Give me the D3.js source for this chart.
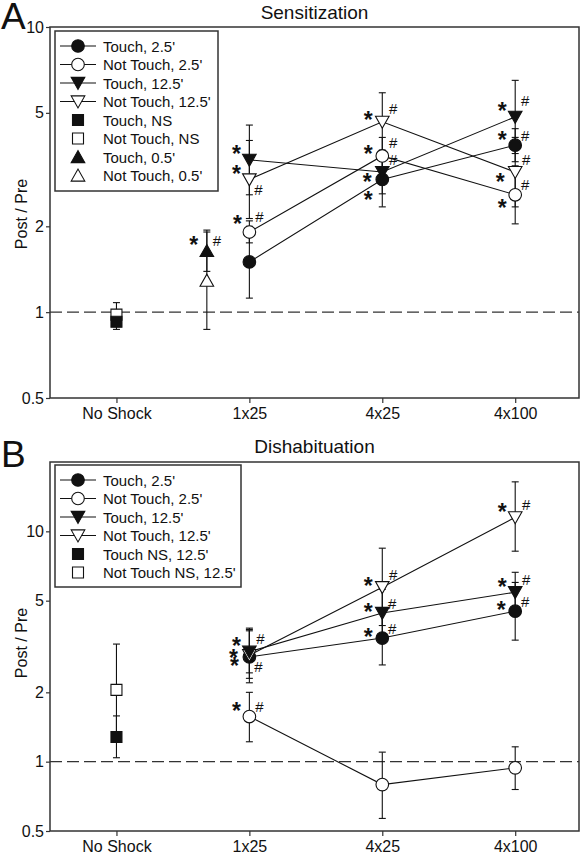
<!DOCTYPE html>
<html><head><meta charset="utf-8">
<script src="https://cdn.jsdelivr.net/npm/d3@7"></script>
<style>body{margin:0;background:#fff} text{font-family:"Liberation Sans",Arial,sans-serif;fill:#111}</style>
</head><body><svg id="c" width="582" height="852"></svg>
<script>
// ---------- data ----------
const categories = ["No Shock", "1x25", "4x25", "4x100"];
const yTickValues = [0.5, 1, 2, 5, 10];
const shockX = [1, 2, 3];        // category indices of the shock groups
const noShockX = [0];
const shortX = [0.68];           // 0.5' group sits between No Shock and 1x25

// Panel A — Sensitization
const aTouch25 = [1.5, 2.92, 3.85],    aTouch25Lo = [1.12, 2.34, 3.37],   aTouch25Hi = [2.0, 3.64, 4.4];
const aNot25   = [1.91, 3.53, 2.58],   aNot25Lo   = [1.75, 3.04, 2.04],   aNot25Hi   = [2.09, 4.1, 3.26];
const aTouch125= [3.42, 3.1, 4.84],    aTouch125Lo= [2.58, 2.6, 3.6],     aTouch125Hi= [4.53, 3.7, 6.5];
const aNot125  = [2.92, 4.65, 3.1],    aNot125Lo  = [2.13, 3.68, 2.34],   aNot125Hi  = [4.0, 5.88, 4.1];
const aTouchNS = [0.925], aTouchNSLo = [0.87], aTouchNSHi = [0.98];
const aNotNS   = [0.98],  aNotNSLo   = [0.89], aNotNSHi   = [1.08];
const aTouch05 = [1.64],  aTouch05Lo = [1.39], aTouch05Hi = [1.94];
const aNot05   = [1.29],  aNot05Lo   = [0.87], aNot05Hi   = [1.91];

// Panel B — Dishabituation
const bTouch25 = [2.85, 3.44, 4.5],    bTouch25Lo = [2.2, 2.63, 3.37],    bTouch25Hi = [3.7, 4.5, 6.0];
const bNot25   = [1.57, 0.795, 0.94],  bNot25Lo   = [1.22, 0.567, 0.757], bNot25Hi   = [2.0, 1.1, 1.16];
const bTouch125= [3.0, 4.42, 5.44],    bTouch125Lo= [2.43, 3.5, 4.4],     bTouch125Hi= [3.8, 5.6, 6.64];
const bNot125  = [2.9, 5.72, 11.5],    bNot125Lo  = [2.3, 3.9, 8.2],      bNot125Hi  = [3.75, 8.45, 16.4];
const bTouchNS = [1.28], bTouchNSLo = [1.04], bTouchNSHi = [1.58];
const bNotNS   = [2.05], bNotNSLo   = [1.30], bNotNSHi   = [3.24];

// legend labels
const legendA = ["Touch, 2.5'", "Not Touch, 2.5'", "Touch, 12.5'", "Not Touch, 12.5'", "Touch, NS", "Not Touch, NS", "Touch, 0.5'", "Not Touch, 0.5'"];
const legendB = ["Touch, 2.5'", "Not Touch, 2.5'", "Touch, 12.5'", "Not Touch, 12.5'", "Touch NS, 12.5'", "Not Touch NS, 12.5'"];

// significance marks: [series key, point index, mark, placement]
const marksA = [
  ["t05",0,"*","up"],["t05",0,"#","mid"],
  ["t125",0,"*","up"],
  ["n125",0,"*","up"],["n125",0,"#","down"],
  ["n25",0,"*","high"],["n25",0,"#","high"],
  ["n125",1,"*","mid"],["n125",1,"#","up"],
  ["n25",1,"*","mid"],["n25",1,"#","up"],
  ["t125",1,"*","low"],["t125",1,"#","up"],
  ["t25",1,"*","far"],
  ["t125",2,"*","up"],["t125",2,"#","high"],
  ["t25",2,"*","up"],["t25",2,"#","mid"],
  ["n125",2,"*","low"],["n125",2,"#","up"],
  ["n25",2,"*","down"],["n25",2,"#","mid"]
];
const marksB = [
  ["t125",0,"*","up"],["t125",0,"#","up"],
  ["n125",0,"*","level"],
  ["t25",0,"*","low"],["t25",0,"#","down"],
  ["n25",0,"*","up"],["n25",0,"#","mid"],
  ["n125",1,"*","mid"],["n125",1,"#","up"],
  ["t125",1,"*","mid"],["t125",1,"#","mid"],
  ["t25",1,"*","mid"],["t25",1,"#","mid"],
  ["n125",2,"*","up"],["n125",2,"#","up"],
  ["t125",2,"*","up"],["t125",2,"#","up"],
  ["t25",2,"*","mid"],["t25",2,"#","mid"]
];

// ---------- build tables ----------
function mk(key, shape, filled, xs, v, lo, hi, line) {
  return {key, shape, filled, line, pts: xs.map((x, i) => ({x, v: v[i], lo: lo[i], hi: hi[i]}))};
}
const seriesA = [
  mk("nNS", "square", false, noShockX, aNotNS, aNotNSLo, aNotNSHi, false),
  mk("tNS", "square", true, noShockX, aTouchNS, aTouchNSLo, aTouchNSHi, false),
  mk("n05", "up", false, shortX, aNot05, aNot05Lo, aNot05Hi, false),
  mk("t05", "up", true, shortX, aTouch05, aTouch05Lo, aTouch05Hi, false),
  mk("t25", "circle", true, shockX, aTouch25, aTouch25Lo, aTouch25Hi, true),
  mk("n25", "circle", false, shockX, aNot25, aNot25Lo, aNot25Hi, true),
  mk("t125", "down", true, shockX, aTouch125, aTouch125Lo, aTouch125Hi, true),
  mk("n125", "down", false, shockX, aNot125, aNot125Lo, aNot125Hi, true)
];
const seriesB = [
  mk("nNS", "square", false, noShockX, bNotNS, bNotNSLo, bNotNSHi, false),
  mk("tNS", "square", true, noShockX, bTouchNS, bTouchNSLo, bTouchNSHi, false),
  mk("n25", "circle", false, shockX, bNot25, bNot25Lo, bNot25Hi, true),
  mk("t25", "circle", true, shockX, bTouch25, bTouch25Lo, bTouch25Hi, true),
  mk("n125", "down", false, shockX, bNot125, bNot125Lo, bNot125Hi, true),
  mk("t125", "down", true, shockX, bTouch125, bTouch125Lo, bTouch125Hi, true)
];
const legendShapesA = [["circle",true,true],["circle",false,true],["down",true,true],["down",false,true],["square",true,false],["square",false,false],["up",true,false],["up",false,false]];
const legendShapesB = legendShapesA.slice(0, 6);

// ---------- drawing ----------
const svg = d3.select("#c");
const INK = "#111", AX = "#333";
const starOff = {high:[-12,-12], up:[-13,-9], mid:[-14,-5], level:[-16,-1], low:[-15,6], down:[-13,10], far:[-14,17]};
const hashOff = {high:[10,-16], up:[11,-13], mid:[10,-10], down:[9,10]};

function shapePath(shape) {
  if (shape === "circle") return d3.symbol(d3.symbolCircle, 125)();
  if (shape === "square") return "M-5.5,-5.5H5.5V5.5H-5.5Z";
  if (shape === "down") return "M-6.8,-5.6L6.8,-5.6L0,6.4Z";
  return "M-6.8,5.6L6.8,5.6L0,-6.4Z";
}

function panel(opt) {
  const {top, bottom, yMax, title, letter, series, marks, legend, legendShapes, legendBox, titleY, letterY, labelY} = opt;
  const left = 50, right = 579;
  const x = d3.scaleLinear().domain([-0.5, 3.48]).range([left, right]);
  const y = d3.scaleLog().domain([0.5, yMax]).range([bottom, top]);
  const g = svg.append("g");

  g.append("text").attr("x", (left + right) / 2).attr("y", titleY).attr("text-anchor", "middle")
    .style("font-size", "19px").text(title);
  g.append("text").attr("x", 1).attr("y", letterY).style("font-size", "37px").text(letter);

  const ya = g.append("g").attr("transform", `translate(${left},0)`)
    .call(d3.axisLeft(y).tickValues(yTickValues).tickFormat(d3.format("")).tickSizeOuter(0).tickSize(4).tickPadding(2));
  const xa = g.append("g").attr("transform", `translate(0,${bottom})`)
    .call(d3.axisBottom(x).tickValues(categories.map((c, i) => i)).tickFormat(i => categories[i]).tickSizeOuter(0).tickSize(5).tickPadding(5));
  [ya, xa].forEach(a => {
    a.select(".domain").remove();
    a.selectAll("line").attr("stroke", AX).attr("stroke-width", 1.2);
    a.selectAll("text").style("font-size", "16px").attr("fill", INK).style("font-family", '"Liberation Sans",Arial,sans-serif');
  });
  g.append("rect").attr("x", left).attr("y", top).attr("width", right - left).attr("height", bottom - top)
    .attr("fill", "none").attr("stroke", AX).attr("stroke-width", 1.5);
  g.append("text").attr("transform", `translate(27,${labelY}) rotate(-90)`).attr("text-anchor", "middle")
    .style("font-size", "16px").text("Post / Pre");

  g.append("line").attr("x1", left).attr("x2", right).attr("y1", y(1)).attr("y2", y(1))
    .attr("stroke", AX).attr("stroke-width", 1.2).attr("stroke-dasharray", "12,5");

  series.forEach(s => s.pts.forEach(p => {
    const px = x(p.x);
    g.append("line").attr("x1", px).attr("x2", px).attr("y1", y(p.lo)).attr("y2", y(p.hi)).attr("stroke", INK).attr("stroke-width", 1.1);
    [p.lo, p.hi].forEach(v => g.append("line").attr("x1", px - 3.5).attr("x2", px + 3.5).attr("y1", y(v)).attr("y2", y(v)).attr("stroke", INK).attr("stroke-width", 1.1));
  }));
  const ln = d3.line().x(p => x(p.x)).y(p => y(p.v));
  series.filter(s => s.line).forEach(s => g.append("path").attr("d", ln(s.pts)).attr("fill", "none").attr("stroke", INK).attr("stroke-width", 1.1));
  series.forEach(s => s.pts.forEach(p => {
    g.append("path").attr("d", shapePath(s.shape)).attr("transform", `translate(${x(p.x)},${y(p.v)})`)
      .attr("fill", s.filled ? INK : "#fff").attr("stroke", INK).attr("stroke-width", 1.1);
  }));
  const byKey = Object.fromEntries(series.map(s => [s.key, s]));
  marks.forEach(([k, i, m, pl]) => {
    const p = byKey[k].pts[i];
    const px = x(p.x), py = y(p.v);
    if (m === "*") {
      const o = starOff[pl];
      g.append("text").attr("x", px + o[0]).attr("y", py + o[1] + 11.5).attr("text-anchor", "middle")
        .style("font-size", "23px").style("font-weight", "bold").text("*");
    } else {
      const o = hashOff[pl];
      g.append("text").attr("x", px + o[0]).attr("y", py + o[1] + 5.5).attr("text-anchor", "middle")
        .style("font-size", "15px").text("#");
    }
  });

  const [bx0, by0, bx1, by1] = legendBox;
  g.append("rect").attr("x", bx0).attr("y", by0).attr("width", bx1 - bx0).attr("height", by1 - by0)
    .attr("fill", "#fff").attr("stroke", AX).attr("stroke-width", 1.5);
  const step = 18.5, first = by0 + 15;
  legend.forEach((lab, i) => {
    const [shape, filled, hasLine] = legendShapes[i];
    const cy = first + i * step;
    if (hasLine) g.append("line").attr("x1", bx0 + 5).attr("x2", bx0 + 41).attr("y1", cy).attr("y2", cy).attr("stroke", INK).attr("stroke-width", 1.1);
    g.append("path").attr("d", shapePath(shape)).attr("transform", `translate(${bx0 + 23},${cy})`)
      .attr("fill", filled ? INK : "#fff").attr("stroke", INK).attr("stroke-width", 1.1);
    g.append("text").attr("x", bx0 + 48).attr("y", cy + 5.5).style("font-size", "15px").text(lab);
  });
}

panel({top: 27, bottom: 398, yMax: 10, title: "Sensitization", letter: "A", series: seriesA, marks: marksA,
  legend: legendA, legendShapes: legendShapesA, legendBox: [55, 31, 218, 191], titleY: 19, letterY: 29, labelY: 214});
panel({top: 462, bottom: 831, yMax: 20, title: "Dishabituation", letter: "B", series: seriesB, marks: marksB,
  legend: legendB, legendShapes: legendShapesB, legendBox: [55, 465, 241, 587], titleY: 453, letterY: 467, labelY: 643});
</script></body></html>
